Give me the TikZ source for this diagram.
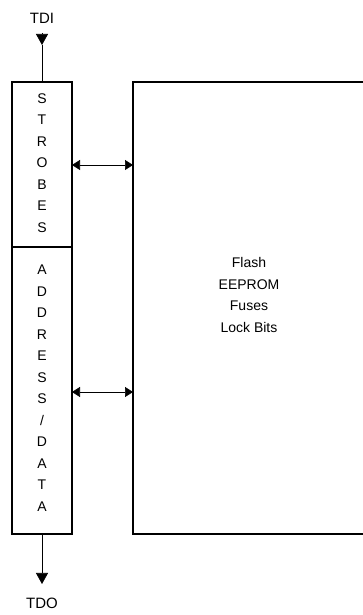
\documentclass[tikz,border=0pt]{standalone}
\usepackage{fontspec}
\setmainfont{Liberation Sans}
\usetikzlibrary{arrows.meta}
\tikzset{
  letters/.style={align=center,font=\fontsize{14}{21.5}\selectfont},
  sig/.style={font=\fontsize{15}{17}\selectfont},
  link/.style={line width=0.6pt,-{Triangle[length=11pt,width=12pt]}},
  wire/.style={line width=0.6pt,{Triangle[length=8pt,width=10pt]}-{Triangle[length=8pt,width=10pt]}},
  frame/.style={line width=1.3pt}
}
\begin{document}
\begin{tikzpicture}
	\useasboundingbox (0,0) rectangle (363pt,615pt);
	\coordinate (SL) at (12pt,533pt);
	\coordinate (SR) at (72pt,533pt);
	\coordinate (ML) at (12pt,368pt);
	\coordinate (MR) at (72pt,368pt);
	\coordinate (AL) at (12pt,81pt);
	\coordinate (AR) at (72pt,81pt);
	\coordinate (ETop) at (133pt,533pt);
	\coordinate (EBot) at (133pt,81pt);
	\draw[frame] (SL) rectangle (AR);
	\draw[frame] (ML)--(MR);
	\draw[frame] (363pt,533pt)--(ETop)--(EBot)--(363pt,81pt);
	\node[letters] (strobes) at (42pt,452pt) {S\\T\\R\\O\\B\\E\\S};
	\node[letters] (addr) at (42pt,227pt) {A\\D\\D\\R\\E\\S\\S\\/\\D\\A\\T\\A};
	\node[letters,font=\fontsize{14}{21.8}\selectfont] (mem) at (249pt,320pt) {Flash\\EEPROM\\Fuses\\Lock Bits};
	\node[sig] (tdi) at (42pt,597pt) {TDI};
	\node[sig] (tdo) at (42pt,12pt) {TDO};
	\coordinate (inbase) at (42pt,582pt);
	\coordinate (intip) at (42pt,570pt);
	\coordinate (outtip) at (42pt,31pt);
	\draw[link] (inbase)--(intip);
	\draw[line width=0.6pt] (intip)--(42pt,533pt);
	\draw[link] (42pt,81pt)--(outtip);
	\draw[wire] (72pt,450pt)--(133pt,450pt);
	\draw[wire] (72pt,223pt)--(133pt,223pt);
\end{tikzpicture}
\end{document}
